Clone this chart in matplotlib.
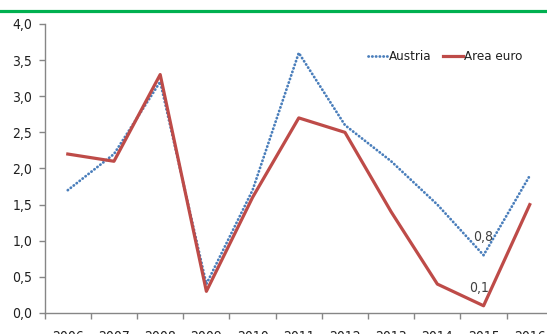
import matplotlib.pyplot as plt
from matplotlib.lines import Line2D
from matplotlib import font_manager
import numpy as np

years = ['2006', '2007', '2008', '2009', '2010', '2011', '2012', '2013', '2014', '2015', '2016']
austria = [1.7, 2.2, 3.2, 0.4, 1.7, 3.6, 2.6, 2.1, 1.5, 0.8, 1.9]
euro = [2.2, 2.1, 3.3, 0.3, 1.6, 2.7, 2.5, 1.4, 0.4, 0.1, 1.5]
y_ticks = [0.0, 0.5, 1.0, 1.5, 2.0, 2.5, 3.0, 3.5, 4.0]

names = {f.name for f in font_manager.fontManager.ttflist}
narrow = [n for n in ['Liberation Sans Narrow', 'DejaVu Sans Condensed'] if n in names]
plt.rcParams['font.family'] = narrow + ['DejaVu Sans']
plt.rcParams['font.stretch'] = 'condensed'

fig = plt.figure(figsize=(5.47, 3.34), dpi=100)
# axes runs a little past the right edge, as in the original
ax = fig.add_axes([0.0817, 0.0629, 0.929, 0.8653])

x = np.arange(len(years))
ax.plot(x, austria, color='#4a7ebb', lw=2.0, linestyle=(0, (0.1, 1.25)),
        dash_capstyle='round', label='Austria')
ax.plot(x, euro, color='#be4b48', lw=2.3, label='Area euro')

# data labels for 2015
ax.annotate('0,8', (x[9], austria[9]), xytext=(0, 13), textcoords='offset points',
            ha='center', va='center', fontsize=10, color='#404040')
ax.annotate('0,1', (x[9], euro[9]), xytext=(-3, 13), textcoords='offset points',
            ha='center', va='center', fontsize=10, color='#404040')

ax.set_xlim(-0.5, len(years) - 0.5)
ax.set_ylim(0, 4)
ax.set_yticks(y_ticks)
ax.set_yticklabels([f'{v:.1f}'.replace('.', ',') for v in y_ticks])
ax.set_xticks(x)
ax.set_xticklabels(years)
ax.set_xticks(np.arange(len(years) + 1) - 0.5, minor=True)
ax.tick_params(axis='x', which='major', length=0, pad=12, labelsize=10, labelcolor='#202020')
ax.tick_params(axis='x', which='minor', length=4, color='#868686', width=1)
ax.tick_params(axis='y', length=4, color='#868686', width=1, labelsize=10, labelcolor='#202020', pad=5)

for s in ['top', 'right']:
    ax.spines[s].set_visible(False)
for s in ['left', 'bottom']:
    ax.spines[s].set_color('#868686')
    ax.spines[s].set_linewidth(1)

ax.legend(loc='center left', bbox_to_anchor=(0.625, 0.886), ncol=2, frameon=False,
          fontsize=9.5, handlelength=1.5, handletextpad=0.1, columnspacing=0.9,
          labelcolor='#202020', borderaxespad=0)

# green rule at top
fig.add_artist(Line2D([0, 1], [0.966, 0.966], color='#00b050', lw=2.3,
                      transform=fig.transFigure))

fig.savefig('out.png', dpi=100)
